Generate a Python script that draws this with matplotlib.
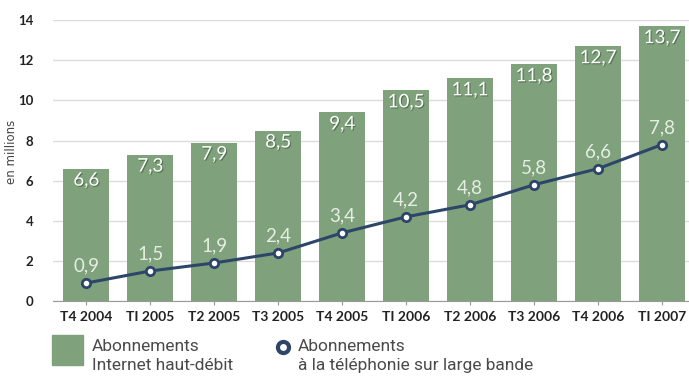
import matplotlib
matplotlib.use('Agg')
import matplotlib.pyplot as plt
import matplotlib.patheffects as pe
from matplotlib.patches import Rectangle
from matplotlib.lines import Line2D

quarters = ['T4 2004', 'T1 2005', 'T2 2005', 'T3 2005', 'T4 2005',
            'T1 2006', 'T2 2006', 'T3 2006', 'T4 2006', 'T1 2007']
tick_labels = ['T4 2004', 'TI 2005', 'T2 2005', 'T3 2005', 'T4 2005',
               'TI 2006', 'T2 2006', 'T3 2006', 'T4 2006', 'TI 2007']
haut_debit = [6.6, 7.3, 7.9, 8.5, 9.4, 10.5, 11.1, 11.8, 12.7, 13.7]
telephonie = [0.9, 1.5, 1.9, 2.4, 3.4, 4.2, 4.8, 5.8, 6.6, 7.8]

BAR_COLOR = '#7fa27c'
LINE_COLOR = '#2d4568'
LABEL_FONT = 'Lato'
LEGEND_FONT = 'Roboto'

fig = plt.figure(figsize=(6.89, 3.87), dpi=100)
ax = fig.add_axes([0.077, 0.222, 0.923, 0.726])

x = list(range(len(quarters)))
ax.bar(x, haut_debit, width=0.72, color=BAR_COLOR, zorder=2)
ax.plot(x, telephonie, color=LINE_COLOR, lw=2.2, zorder=3,
        marker='o', markersize=6, markerfacecolor='white',
        markeredgecolor=LINE_COLOR, markeredgewidth=2)

shadow = [pe.withSimplePatchShadow(offset=(0.8, -0.8), shadow_rgbFace='#3a5238', alpha=0.6)]
for i, v in enumerate(haut_debit):
    ax.text(i, v - 0.15, f'{v:.1f}'.replace('.', ','), ha='center', va='top',
            fontsize=13.5, color='white', family=LABEL_FONT, zorder=4,
            path_effects=shadow)
for i, v in enumerate(telephonie):
    ax.text(i, v + 0.42, f'{v:.1f}'.replace('.', ','), ha='center', va='bottom',
            fontsize=13.5, color='#e6eee4', family=LABEL_FONT, zorder=4)

ax.set_xlim(-0.52, 9.42)
ax.set_ylim(0, 14)
ax.set_yticks(range(0, 15, 2))
ax.set_yticklabels([str(t) for t in range(0, 15, 2)], fontsize=9.5,
                   fontweight='bold', family=LABEL_FONT, color='#222222')
ax.set_xticks(x)
ax.set_xticklabels(tick_labels, fontsize=10, fontweight='bold',
                   family=LABEL_FONT, color='#222222')
ax.tick_params(axis='y', length=0, pad=14)
ax.tick_params(axis='x', length=3, color='#999999', pad=4)
ax.grid(axis='y', color='#dcdcdc', lw=1, zorder=0)
for s in ['top', 'right', 'left']:
    ax.spines[s].set_visible(False)
ax.spines['bottom'].set_color('#999999')
ax.set_ylabel('en millions', fontsize=8.5, color='#444444', va='center')
ax.yaxis.set_label_coords(-0.066, 0.53)

# legend
fig.patches.append(Rectangle((52 / 689, 1 - 365 / 387), 31 / 689, 30 / 387,
                             transform=fig.transFigure, color=BAR_COLOR))
fig.text(92 / 689, 1 - 356 / 387, 'Abonnements\nInternet haut-débit',
         ha='left', va='center', fontsize=12.5, color='#4a4a4a',
         family=LEGEND_FONT, linespacing=1.3)
fig.add_artist(Line2D([283 / 689], [1 - 347 / 387], transform=fig.transFigure,
                      marker='o', markersize=8, markerfacecolor='white',
                      markeredgecolor=LINE_COLOR, markeredgewidth=3, lw=0))
fig.text(298 / 689, 1 - 356 / 387, 'Abonnements\nà la téléphonie sur large bande',
         ha='left', va='center', fontsize=12.5, color='#4a4a4a',
         family=LEGEND_FONT, linespacing=1.3)

fig.savefig('out.png', dpi=100)
